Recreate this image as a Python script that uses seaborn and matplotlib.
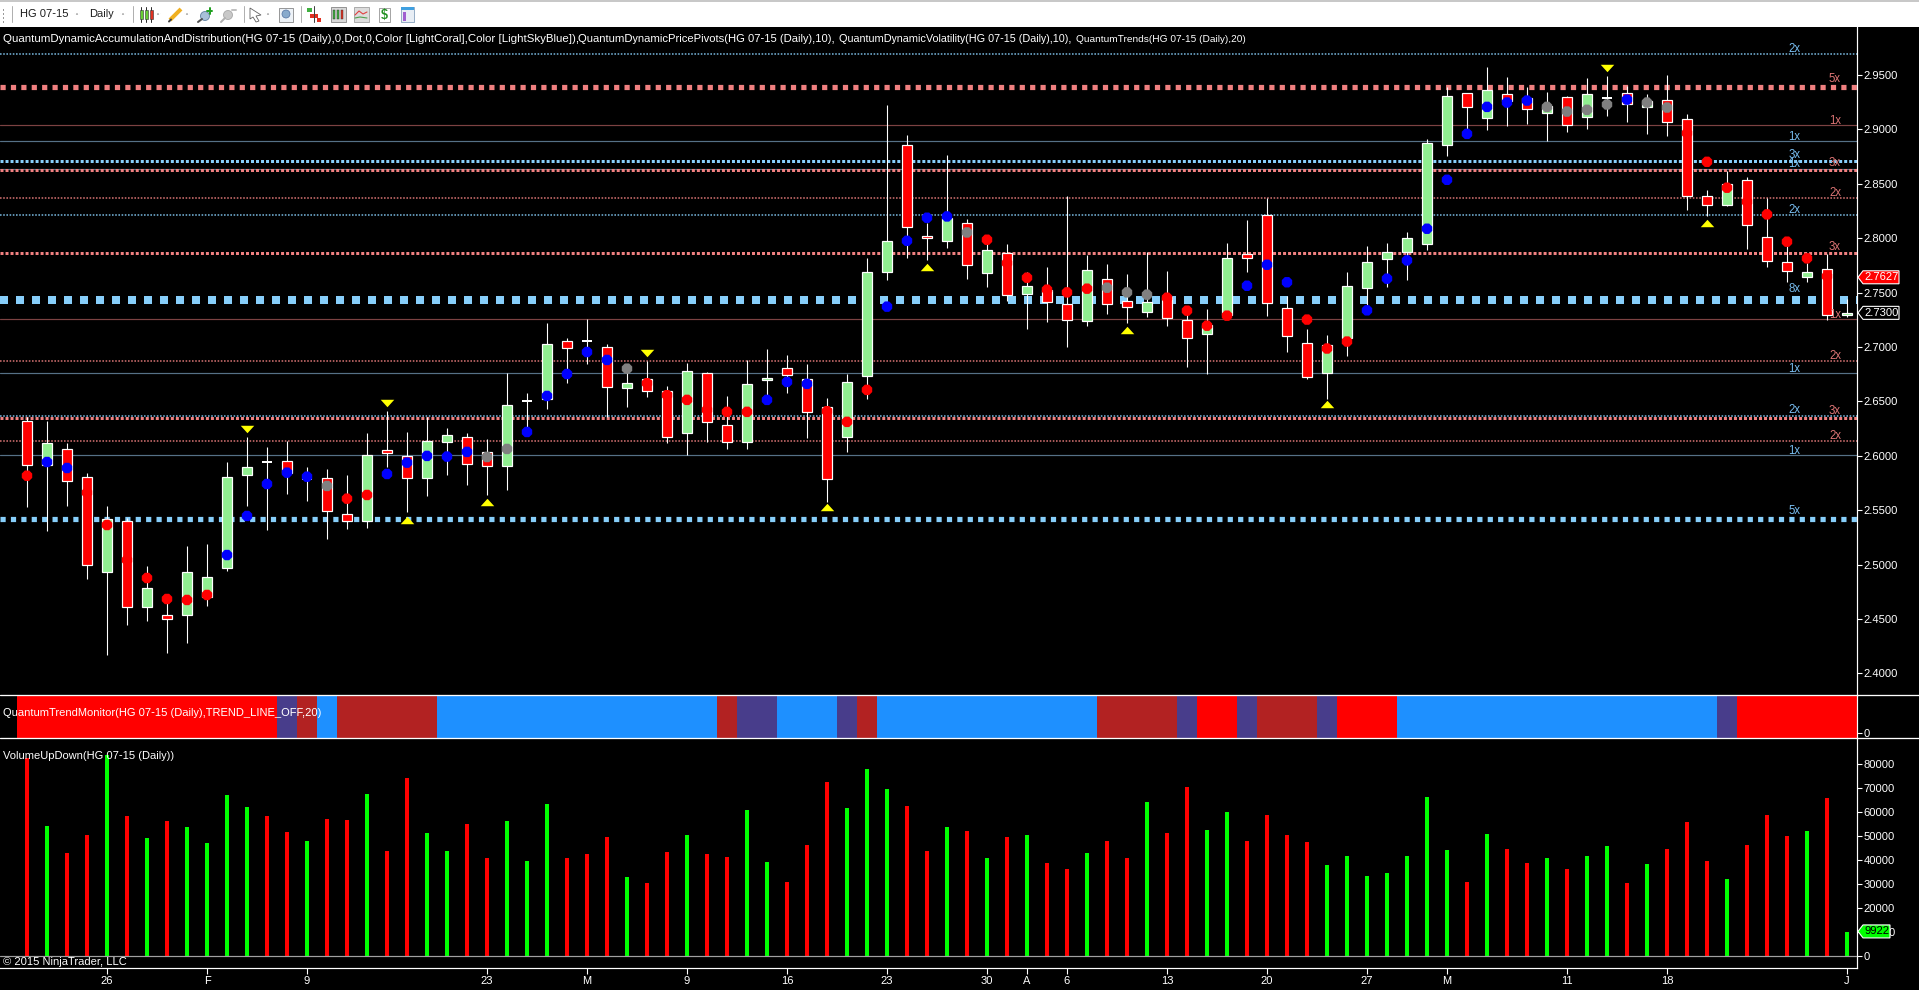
import numpy as np
import pandas as pd
import matplotlib
matplotlib.use("Agg")
import matplotlib.pyplot as plt
import seaborn as sns
from matplotlib.colors import ListedColormap
from matplotlib.patches import Polygon, Rectangle, Circle

# candles
highs = [2.6353,2.6320,2.6114,2.5839,2.5538,2.5425,2.4987,2.4721,2.5171,2.5189,
         2.5943,2.6173,2.6081,2.6136,2.5897,2.5879,2.5824,2.6209,2.6412,2.6219,
         2.6360,2.6256,2.6213,2.6155,2.6761,2.6577,2.7223,2.7083,2.7257,2.7027,
         2.6826,2.6872,2.6643,2.6854,2.6771,2.6551,2.6881,2.6982,2.6927,2.6844,
         2.6532,2.6753,2.7817,2.9225,2.8949,2.8139,2.8766,2.8178,2.7986,2.7949,
         2.7689,2.7738,2.8390,2.7848,2.7765,2.7673,2.7875,2.7701,2.7374,2.7352,
         2.7958,2.8169,2.8368,2.7472,2.7169,2.7114,2.7689,2.7931,2.7956,2.8060,
         2.8913,2.9394,2.9339,2.9574,2.9483,2.9394,2.9345,2.9308,2.9473,2.9492,
         2.9400,2.9326,2.9501,2.9143,2.8445,2.8620,2.8565,2.8369,2.7925,2.7772,
         2.7858,2.7442]
body_tops = [2.6317,2.6114,2.6060,2.5805,2.5416,2.5398,2.4782,2.4534,2.4929,2.4883,
             2.5805,2.5894,2.5943,2.5949,2.5790,2.5793,2.5462,2.6004,2.6050,2.5995,
             2.6134,2.6189,2.6170,2.6032,2.6464,2.6507,2.7024,2.7052,2.7055,2.6997,
             2.6666,2.6704,2.6594,2.6777,2.6759,2.6281,2.6658,2.6713,2.6805,2.6704,
             2.6447,2.6676,2.7689,2.7973,2.8855,2.8022,2.8184,2.8139,2.7891,2.7863,
             2.7560,2.7527,2.7395,2.7707,2.7625,2.7423,2.7413,2.7459,2.7248,2.7205,
             2.7817,2.7854,2.8212,2.7359,2.7041,2.7022,2.7561,2.7781,2.7873,2.8001,
             2.8874,2.9305,2.9333,2.9360,2.9323,2.9287,2.9216,2.9296,2.9323,2.9290,
             2.9333,2.9265,2.9268,2.9094,2.8387,2.8497,2.8534,2.8011,2.7781,2.7689,
             2.7717,2.7313]
body_bottoms = [2.5918,2.5918,2.5771,2.4999,2.4935,2.4613,2.4613,2.4503,2.4540,2.4705,
                2.4972,2.5827,2.5943,2.5839,2.5790,2.5496,2.5398,2.5398,2.6029,2.5799,
                2.5799,2.6131,2.5928,2.5910,2.5910,2.6507,2.6525,2.6988,2.7055,2.6636,
                2.6626,2.6600,2.6171,2.6205,2.6315,2.6131,2.6131,2.6695,2.6747,2.6407,
                2.5783,2.6177,2.6731,2.7686,2.8099,2.7998,2.7976,2.7750,2.7677,2.7475,
                2.7484,2.7410,2.7245,2.7236,2.7392,2.7364,2.7319,2.7263,2.7080,2.7117,
                2.7297,2.7814,2.7401,2.7099,2.6724,2.6761,2.7083,2.7539,2.7806,2.7870,
                2.7946,2.8861,2.9210,2.9109,2.9265,2.9183,2.9155,2.9036,2.9118,2.9290,
                2.9235,2.9207,2.9072,2.8384,2.8301,2.8301,2.8118,2.7787,2.7695,2.7640,
                2.7292,2.7292]
lows = [2.5532,2.5311,2.5538,2.4870,2.4172,2.4448,2.4485,2.4184,2.4282,2.4623,
        2.4944,2.5538,2.5318,2.5652,2.5585,2.5238,2.5327,2.5336,2.5897,2.5484,
        2.5634,2.5827,2.5732,2.5640,2.5686,2.6268,2.6433,2.6672,2.6844,2.6360,
        2.6452,2.6542,2.6122,2.6003,2.6131,2.6067,2.6058,2.6560,2.6581,2.6168,
        2.5578,2.6031,2.6526,2.7618,2.7820,2.7802,2.7906,2.7628,2.7554,2.7426,
        2.7169,2.7233,2.7003,2.7196,2.7306,2.7224,2.7279,2.7196,2.6820,2.6755,
        2.7266,2.7686,2.7288,2.6952,2.6706,2.6522,2.6915,2.7386,2.7549,2.7613,
        2.7888,2.8757,2.9005,2.8996,2.9027,2.9051,2.8889,2.8972,2.9008,2.9125,
        2.9069,2.8959,2.8935,2.8262,2.8207,2.8292,2.7904,2.7738,2.7595,2.7595,
        2.7252,2.7273]
# up / down day, same for the candle and its volume bar
directions = list("rgrrgrgrggggrrgrrgrrggrrgggrrrg"
                  "rrgrrggrrrgggrrgrgrgrrgrrgrrggrr"
                  "rrgggggggrgrrgrggrgrrrgrrrgrg")

# trend dots on the candles, r red, b blue, k grey
dot_prices = [2.5817,2.5943,2.5888,2.5661,2.5364,2.5042,2.4877,2.4684,2.4675,2.4721,
              2.5088,2.5447,2.5741,2.5845,2.5808,2.5723,2.5606,2.5640,2.5833,2.5937,
              2.5999,2.5993,2.6036,2.5989,2.6063,2.6219,2.6550,2.6752,2.6954,2.6881,
              2.6801,2.6667,2.6557,2.6514,2.6422,2.6404,2.6404,2.6514,2.6679,2.6661,
              2.6410,2.6312,2.6606,2.7371,2.7976,2.8188,2.8200,2.8053,2.7986,2.7771,
              2.7637,2.7527,2.7502,2.7536,2.7545,2.7502,2.7481,2.7453,2.7334,2.7196,
              2.7288,2.7563,2.7756,2.7595,2.7252,2.6986,2.7050,2.7337,2.7628,2.7796,
              2.8087,2.8537,2.8959,2.9207,2.9247,2.9265,2.9207,2.9164,2.9180,2.9229,
              2.9274,2.9247,2.9201,2.8965,2.8702,2.8464,2.8335,2.8219,2.7968,2.7815,
              2.7650]
dot_kinds = list("rbbrrrrrrr" "bbbbbkrrbb" "bbbkkbbbbb" "krrrrrrbbb" "rrrbbbbkrr"
                 "rrrrkkkrrr" "rbbbrrrbbb" "bbbbbbkkkk" "bkkrrrrrrrr")

# yellow pivots
pivot_up_bars = [19, 23, 40, 45, 55, 65, 84]
pivot_up_prices = [2.5412, 2.5574, 2.5529, 2.7735, 2.7159, 2.6476, 2.8139]
pivot_down_bars = [11, 18, 31, 79]
pivot_down_prices = [2.6244, 2.6483, 2.6948, 2.9562]

# volatility levels: price, side, multiple
level_prices = [2.9690,2.9387,2.9038,2.8891,2.8707,2.8639,2.8627,2.8367,2.8210,2.7861,
                2.7429,2.7255,2.6869,2.6758,2.6366,2.6352,2.6133,2.6005,2.5416]
level_sides = list("brrbbbrrbrbrrbbrrbb")
level_multiples = [2,5,1,1,3,1,3,2,2,3,8,1,2,1,2,3,2,1,5]

volumes = [82300,54100,42800,50300,83700,58300,49100,56200,53700,47000,
           67000,62000,58300,51600,47800,57000,56600,67500,43700,74100,
           51200,43700,54900,40700,56200,39500,63300,40700,42400,49500,
           32800,30300,43200,50300,42400,41200,60800,39100,30700,46200,
           72500,61600,77900,69500,62400,43700,53700,52000,40700,49500,
           50300,38700,36200,42800,47800,40700,64100,51200,70400,52400,
           59900,47800,58700,50300,47400,37800,41600,33200,34500,41600,
           66200,44100,30700,50800,44500,38700,40700,36200,41600,45800,
           30300,38200,44500,55800,39500,32000,46200,58700,49900,52000,
           65800,9922]

trend_runs = [("red",13),("slate",1),("brick",1),("blue",1),("brick",5),("blue",14),
              ("brick",1),("slate",2),("blue",3),("slate",1),("brick",1),("blue",11),
              ("brick",4),("slate",1),("red",2),("slate",1),("brick",3),("slate",1),
              ("red",3),("blue",16),("slate",1),("red",6)]

date_bars = [4, 9, 14, 23, 28, 33, 38, 43, 48, 50, 52, 57, 62, 67, 71, 77, 82, 91]
date_labels = ["26","F","9","23","M","9","16","23","30","A","6","13","20","27","M","11","18","J"]

price_ticks = [2.40,2.45,2.50,2.55,2.60,2.65,2.70,2.75,2.80,2.85,2.90,2.95]
volume_ticks = [0,10000,20000,30000,40000,50000,60000,70000,80000]
last_price = 2.7627
last_close = 2.7300
last_volume = 9922

W, H = 1919, 990
PX = 0.72
FS = 8.0
sns.set_theme(style="dark", rc={"figure.facecolor": "black", "axes.facecolor": "black",
                                "axes.edgecolor": "white", "text.color": "white",
                                "xtick.color": "white", "ytick.color": "white",
                                "axes.grid": False})
plt.rcParams["font.family"] = ["Liberation Sans", "DejaVu Sans"]
plt.rcParams["font.size"] = FS
plt.rcParams["text.hinting"] = "native"
plt.rcParams["text.hinting_factor"] = 8

fig = plt.figure(figsize=(W / 100, H / 100), dpi=100)

def panel(top, bottom, right=1856.6):
    return fig.add_axes([0, 1 - bottom / H, right / W, (bottom - top) / H])

ax = panel(27, 696)
ax_trend = panel(696, 738)
ax_vol = panel(738, 968.3)
x_range = (-1.35, 91.48)
bars = np.arange(len(highs))

# price panel
line_colors = {"b": "#87cefa", "r": "#f08080"}
thin_colors = {"b": "#557086", "r": "#7c4242"}
patterns = {2: (1, 1), 3: (1, 0.67), 5: (1, 1), 8: (1, 1)}
for price, side, mult in zip(level_prices, level_sides, level_multiples):
    if mult == 1:
        ax.axhline(price, color=thin_colors[side], lw=1.2 * PX, zorder=1)
    else:
        width = 1.6 if mult == 2 else mult
        if mult == 5:
            width = 5.2
        ax.axhline(price, color=line_colors[side], lw=width * PX, alpha=0.85 if mult == 2 else 1,
                   linestyle=(0, patterns[mult]), dash_capstyle="butt", zorder=1)

colors = {"r": "#ff0000", "g": "#90ee90"}
ax.vlines(bars, lows, highs, color="white", lw=1.1 * PX, zorder=2)
heights = np.array(body_tops) - np.array(body_bottoms)
is_doji = heights == 0
ax.bar(bars[~is_doji], heights[~is_doji], bottom=np.array(body_bottoms)[~is_doji], width=0.54,
       color=[colors[d] for d, j in zip(directions, is_doji) if not j],
       edgecolor="white", linewidth=1.2 * PX, zorder=3)
ax.hlines(np.array(body_tops)[is_doji], bars[is_doji] - 0.27, bars[is_doji] + 0.27,
          color="white", lw=2 * PX, zorder=3)

dots = pd.DataFrame({"bar": bars[:len(dot_prices)], "price": dot_prices, "kind": dot_kinds})
sns.scatterplot(data=dots, x="bar", y="price", hue="kind", marker="8", s=66, linewidth=0,
                palette={"r": "#ff0000", "b": "#0000ff", "k": "#808080"},
                legend=False, zorder=4, ax=ax)

up_mark = [(-1, -0.55), (1, -0.55), (0, 0.55)]
down_mark = [(-1, 0.55), (1, 0.55), (0, -0.55)]
ax.scatter(pivot_up_bars, pivot_up_prices, marker=up_mark, s=95, color="#ffff00", linewidth=0, zorder=4)
ax.scatter(pivot_down_bars, pivot_down_prices, marker=down_mark, s=95, color="#ffff00", linewidth=0, zorder=4)

ax.set_xlim(*x_range)
ax.set_ylim(2.95 - (696 - 75) / 1088, 2.95 + (75 - 27) / 1088)
ax.set_xticks([])
ax.set_xlabel("")
ax.set_ylabel("")
ax.yaxis.tick_right()
ax.set_yticks(price_ticks)
ax.set_yticklabels([f"{t:.4f}" for t in price_ticks])

# trend monitor strip
trend_names = ["red", "slate", "brick", "blue"]
trend_colors = ["#ff0000", "#483d8b", "#b22222", "#1e90ff"]
trend_cells = []
for name, count in trend_runs:
    trend_cells += [trend_names.index(name)] * count
sns.heatmap(np.array([trend_cells]), cmap=ListedColormap(trend_colors), vmin=-0.5, vmax=3.5,
            cbar=False, xticklabels=False, yticklabels=False, ax=ax_trend)
ax_trend.set_xlim(x_range[0] + 0.5, x_range[1] + 0.5)
ax_trend.set_ylim(1, 0)
ax_trend.set_xticks([])
ax_trend.yaxis.tick_right()
ax_trend.set_yticks([0.87])
ax_trend.set_yticklabels(["0"])

# volume panel
vol_frame = pd.DataFrame({"bar": bars, "volume": volumes, "direction": directions})
sns.barplot(data=vol_frame, x="bar", y="volume", hue="direction", native_scale=True, dodge=False,
            width=0.2, saturation=1, palette={"r": "#ff0000", "g": "#00ff00"}, legend=False,
            linewidth=0, edgecolor="none", ax=ax_vol)
ax_vol.axhline(0, color="#a0a0a0", lw=1.2 * PX, zorder=5)
ax_vol.set_xlim(*x_range)
ax_vol.set_ylim(-5260, 90850)
ax_vol.set_xlabel("")
ax_vol.set_ylabel("")
ax_vol.yaxis.tick_right()
ax_vol.set_yticks(volume_ticks)
ax_vol.set_yticklabels([str(t) for t in volume_ticks])
ax_vol.set_xticks(date_bars)
ax_vol.set_xticklabels(date_labels)

for a in (ax, ax_trend, ax_vol):
    for s in a.spines.values():
        s.set_visible(False)
    a.spines["right"].set_visible(True)
    a.spines["right"].set_color("white")
    a.spines["right"].set_linewidth(1.2 * PX)
    a.tick_params(axis="y", length=5 * PX, width=1.1 * PX, pad=1.5, labelsize=FS, colors="white")
ax_vol.spines["bottom"].set_visible(True)
ax_vol.spines["bottom"].set_color("white")
ax_vol.spines["bottom"].set_linewidth(1.2 * PX)
ax_vol.tick_params(axis="x", length=6 * PX, width=1.1 * PX, pad=1.5, labelsize=FS, colors="white", bottom=True)

# overlay in pixel coordinates for the platform chrome
top = fig.add_axes([0, 0, 1, 1], zorder=10)
top.set_xlim(0, W)
top.set_ylim(H, 0)
top.axis("off")

def price_px(a, value):
    return H - a.transData.transform((0, value))[1]

fig.canvas.draw()
for y in (695.3, 738):
    top.plot([0, W], [y, y], color="white", lw=1.3 * PX)

label_colors = {"b": "#78bdf0", "r": "#dc7474"}
label_x = {"b": 1794.5, "r": 1835}
for price, side, mult in zip(level_prices, level_sides, level_multiples):
    top.text(label_x[side], price_px(ax, price) - (4 + mult), f"{mult}x", color=label_colors[side],
             fontsize=FS + 0.3, ha="center", va="center")

# the indicator caption, each part sized to where the platform put it
caption_parts = [(3, 8.27, "QuantumDynamicAccumulationAndDistribution(HG 07-15 (Daily),0,Dot,0,Color [LightCoral],Color [LightSkyBlue]),"),
                 (578, 8.1, "QuantumDynamicPricePivots(HG 07-15 (Daily),10),"),
                 (839, 7.85, "QuantumDynamicVolatility(HG 07-15 (Daily),10),"),
                 (1076, 7.25, "QuantumTrends(HG 07-15 (Daily),20)")]
for x, size, part in caption_parts:
    top.text(x, 39, part, color="white", fontsize=size, va="center")
top.text(3, 712.7, "QuantumTrendMonitor(HG 07-15 (Daily),TREND_LINE_OFF,20)", color="white", fontsize=FS, va="center")
top.text(3, 756, "VolumeUpDown(HG 07-15 (Daily))", color="white", fontsize=FS, va="center")
top.text(3, 962, "\u00a9 2015 NinjaTrader, LLC", color="white", fontsize=FS, va="center")

def tag(y, right, face, text_color, text, edge="white"):
    pts = [(1858, y), (1863, y - 6.5), (right, y - 6.5), (right, y + 6.5), (1863, y + 6.5)]
    top.add_patch(Polygon(pts, closed=True, facecolor=face, edgecolor=edge, lw=1.1 * PX, zorder=6))
    top.text(1864.5, y, text, color=text_color, fontsize=FS, va="center", zorder=7)

tag(price_px(ax, last_price) - 1.5, 1899, "#ff0000", "white", f"{last_price:.4f}")
tag(price_px(ax, last_close) - 1.5, 1899, "black", "white", f"{last_close:.4f}")
tag(price_px(ax_vol, last_volume) - 0.5, 1890, "#00ff00", "black", str(last_volume))

# toolbar
top.add_patch(Rectangle((0, 0), W, 27, facecolor="#ffffff", edgecolor="none", zorder=1))
top.add_patch(Rectangle((0, 0), W, 1.5, facecolor="#c8c8c8", edgecolor="none", zorder=2))
for y in (9, 13, 17, 21):
    top.add_patch(Rectangle((2.5, y), 1.5, 1.5, facecolor="#9a9a9a", edgecolor="none", zorder=2))
for x in (12, 133, 244, 301):
    top.plot([x, x], [6, 22], color="#b0b0b0", lw=1 * PX, zorder=2)
top.text(20, 14, "HG 07-15", color="#202020", fontsize=FS, va="center", zorder=3)
top.text(89, 14, "Daily", color="#202020", fontsize=FS, va="center", zorder=3)
for x in (77, 123, 158, 187, 268):
    top.add_patch(Polygon([(x - 2.5, 13), (x + 2.5, 13), (x, 16)], closed=True, facecolor="#303030", zorder=3))
for x, c in ((141, "#66cc33"), (146, "#66cc33"), (151, "#e03020")):
    top.plot([x, x], [7, 22], color="#303030", lw=1 * PX, zorder=3)
    top.add_patch(Rectangle((x - 1.5, 10), 3, 9, facecolor=c, edgecolor="#303030", lw=0.4, zorder=4))
top.plot([170, 181], [20, 9], color="#f0b020", lw=4 * PX, solid_capstyle="butt", zorder=3)
top.plot([169, 171], [21.5, 19.5], color="#404040", lw=2 * PX, zorder=3)
top.add_patch(Circle((205, 16), 4.5, facecolor="#a8c0d8", edgecolor="#6080a0", lw=0.6, zorder=3))
top.plot([198, 202], [22, 19], color="#505050", lw=2 * PX, zorder=3)
top.plot([207, 212], [11, 11], color="#20a020", lw=2 * PX, zorder=3)
top.plot([209.5, 209.5], [8, 13.5], color="#20a020", lw=2 * PX, zorder=3)
top.add_patch(Circle((228, 15), 4.5, facecolor="#c8c8c8", edgecolor="#a8a8a8", lw=0.6, zorder=3))
top.plot([221, 225], [22, 18], color="#b0b0b0", lw=2 * PX, zorder=3)
top.plot([232, 236], [10, 10], color="#c0c0c0", lw=2 * PX, zorder=3)
top.add_patch(Polygon([(250, 8), (261, 15), (256, 16), (259, 21), (256, 22), (253, 17), (250, 19)],
                      closed=True, facecolor="white", edgecolor="#606060", lw=0.6, zorder=3))
top.add_patch(Rectangle((278.5, 7.5), 14, 14.5, facecolor="#eef3f8", edgecolor="#707070", lw=0.5, zorder=3))
top.add_patch(Circle((286, 14), 4, facecolor="#88aacc", edgecolor="#5070a0", lw=0.5, zorder=4))
top.add_patch(Rectangle((307, 8), 5, 4, facecolor="#40b040", edgecolor="none", zorder=3))
top.add_patch(Rectangle((310, 14), 8, 4, facecolor="#e03020", edgecolor="none", zorder=3))
top.add_patch(Rectangle((317, 18), 4, 4, facecolor="#e03020", edgecolor="none", zorder=3))
top.plot([314, 314], [6, 22], color="#404040", lw=1 * PX, zorder=3)
top.add_patch(Rectangle((330.5, 7), 15, 15, facecolor="#d8d8d8", edgecolor="#707070", lw=0.5, zorder=3))
for x, c in ((334, "#40b040"), (338, "#40b040"), (342, "#e03020")):
    top.add_patch(Rectangle((x - 1.2, 10), 2.4, 9, facecolor=c, edgecolor="#303030", lw=0.3, zorder=4))
top.add_patch(Rectangle((353.5, 7), 15, 15, facecolor="#dcdcdc", edgecolor="#909090", lw=0.5, zorder=3))
top.plot([355, 359, 363, 367], [15, 11, 14, 12], color="#e04040", lw=0.8, zorder=4)
top.plot([355, 360, 367], [18, 17, 18], color="#50a050", lw=0.8, zorder=4)
top.add_patch(Rectangle((379, 8), 11, 14, facecolor="white", edgecolor="#808080", lw=0.5, zorder=3))
top.text(384.5, 15, "$", color="#209020", fontsize=9, fontweight="bold", ha="center", va="center", zorder=4)
top.add_patch(Rectangle((400.5, 7), 13, 15, facecolor="#e8eef5", edgecolor="#7090b0", lw=0.5, zorder=3))
top.add_patch(Rectangle((400.5, 7), 13, 3, facecolor="#40a0e0", edgecolor="none", zorder=4))
top.add_patch(Rectangle((402.5, 11.5), 3, 9, facecolor="#a060d0", edgecolor="none", zorder=4))

fig.savefig("out.png", dpi=100, facecolor="black")
